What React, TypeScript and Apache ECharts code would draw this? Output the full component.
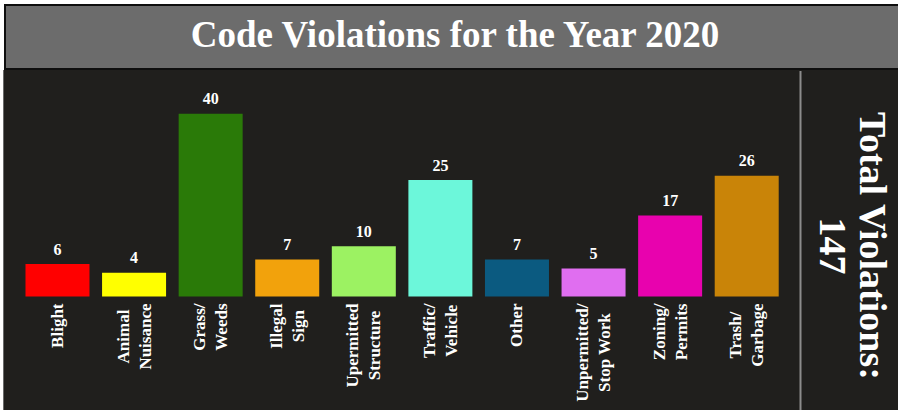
import React, { useEffect, useRef } from "react";
import * as echarts from "echarts";

const categories = [
  "Blight",
  "Animal\nNuisance",
  "Grass/\nWeeds",
  "Illegal\nSign",
  "Upermitted\nStructure",
  "Traffic/\nVehicle",
  "Other",
  "Unpermitted/\nStop Work",
  "Zoning/\nPermits",
  "Trash/\nGarbage",
];
const values = [6, 4, 40, 7, 10, 25, 7, 5, 17, 26];
const colors = [
  "#ff0000",
  "#ffff00",
  "#2a7a08",
  "#f2a20c",
  "#9cf262",
  "#6cf7da",
  "#0b5a80",
  "#e06ef0",
  "#e802ae",
  "#c98408",
];
const titleText = "Code Violations for the Year 2020";
const totalLabel = "Total Violations:";
const totalValue = values.reduce((a, b) => a + b, 0);

const SERIF = "'Liberation Serif', 'Times New Roman', serif";

export default function App() {
  const ref = useRef<HTMLDivElement>(null);
  useEffect(() => {
    if (!ref.current) return;
    const chart = echarts.init(ref.current, null, { renderer: "svg" });
    chart.setOption({
      animation: false,
      backgroundColor: "#ffffff",
      graphic: [
        {
          type: "rect",
          z: -10,
          shape: { x: 3, y: 70, width: 895, height: 340 },
          style: { fill: "#201f1d" },
          silent: true,
        },
        {
          type: "line",
          z: -9,
          shape: { x1: 3.5, y1: 70, x2: 3.5, y2: 410 },
          style: { stroke: "#6a6a6a", lineWidth: 1 },
          silent: true,
        },
        {
          type: "rect",
          z: -9,
          shape: { x: 5, y: 5, width: 900, height: 64 },
          style: { fill: "#6c6c6c", stroke: "#0e0e0e", lineWidth: 2 },
          silent: true,
        },
        {
          type: "line",
          z: -8,
          shape: { x1: 800.5, y1: 71, x2: 800.5, y2: 410 },
          style: { stroke: "#8c8c8c", lineWidth: 2 },
          silent: true,
        },
        {
          type: "text",
          x: 455,
          y: 34,
          style: {
            text: titleText,
            fill: "#ffffff",
            font: `bold 37px ${SERIF}`,
            align: "center",
            verticalAlign: "middle",
          },
          silent: true,
        },
        {
          type: "text",
          x: 853,
          y: 246,
          rotation: -Math.PI / 2,
          style: {
            text: `${totalLabel}\n${totalValue}`,
            fill: "#ffffff",
            font: `bold 38px ${SERIF}`,
            lineHeight: 40,
            align: "center",
            verticalAlign: "middle",
          },
          silent: true,
        },
      ],
      grid: { left: 19.2, right: 113, top: 105, bottom: 113.5 },
      xAxis: {
        type: "category",
        data: categories,
        axisLine: { show: false },
        axisTick: { show: false },
        axisLabel: {
          interval: 0,
          rotate: 90,
          margin: 7,
          color: "#ffffff",
          fontFamily: SERIF,
          fontWeight: "bold",
          fontSize: 17,
          lineHeight: 22,
          formatter: (v: string) =>
            v
              .split("\n")
              .map((l) => `{c|${l}}`)
              .join("\n"),
          rich: {
            c: {
              align: "center",
              color: "#ffffff",
              fontFamily: SERIF,
              fontWeight: "bold",
              fontSize: 17,
              lineHeight: 22,
            },
          },
        },
      },
      yAxis: {
        type: "value",
        min: -1.35,
        max: 42,
        startValue: -1.35,
        show: false,
        splitLine: { show: false },
      },
      series: [
        {
          type: "bar",
          barWidth: 64,
          data: values.map((v, i) => ({
            value: v,
            itemStyle: { color: colors[i] },
          })),
          label: {
            show: true,
            position: "top",
            distance: 7,
            color: "#ffffff",
            fontFamily: SERIF,
            fontWeight: "bold",
            fontSize: 16,
          },
        },
      ],
    });
    return () => chart.dispose();
  }, []);
  return (
    <div
      ref={ref}
      style={{ position: "absolute", left: 0, top: 0, width: 898, height: 410 }}
    />
  );
}
